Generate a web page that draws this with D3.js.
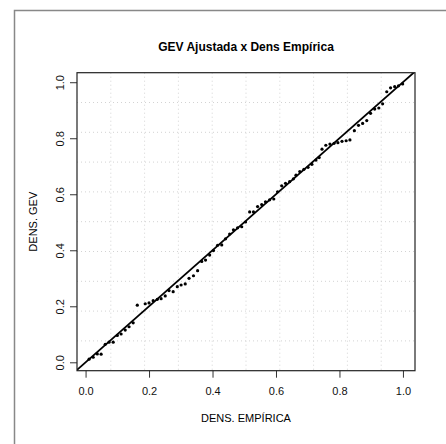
<!DOCTYPE html>
<html>
<head>
<meta charset="utf-8">
<script src="https://cdn.jsdelivr.net/npm/d3@7"></script>
<style>
  body { margin: 0; background: #fff; }
  text { font-family: "Liberation Sans", Arial, sans-serif; }
</style>
</head>
<body>
<div id="chart"></div>
<script>
let densEmp = [
  0.011, 0.024, 0.037, 0.049, 0.062, 0.074, 0.087, 0.100, 0.112, 0.125,
  0.137, 0.150, 0.163, 0.188, 0.200, 0.213, 0.226, 0.238, 0.251, 0.263,
  0.276, 0.289, 0.301, 0.314, 0.326, 0.340, 0.353, 0.366, 0.378, 0.391,
  0.403, 0.416, 0.429, 0.441, 0.454, 0.466, 0.479, 0.492, 0.504, 0.517,
  0.529, 0.542, 0.555, 0.567, 0.580, 0.593, 0.605, 0.618, 0.630, 0.643,
  0.655, 0.663, 0.675, 0.688, 0.701, 0.713, 0.726, 0.736, 0.745, 0.757,
  0.770, 0.783, 0.795, 0.808, 0.821, 0.833, 0.847, 0.860, 0.873, 0.886,
  0.898, 0.911, 0.924, 0.936, 0.949, 0.961, 0.974, 0.986, 0.999
]
let densGev = [
  0.011, 0.018, 0.030, 0.029, 0.064, 0.072, 0.072, 0.096, 0.101, 0.115,
  0.127, 0.141, 0.204, 0.209, 0.212, 0.220, 0.225, 0.227, 0.237, 0.256,
  0.252, 0.270, 0.276, 0.280, 0.300, 0.309, 0.327, 0.360, 0.365, 0.383,
  0.399, 0.418, 0.419, 0.441, 0.458, 0.473, 0.480, 0.484, 0.501, 0.537,
  0.537, 0.556, 0.563, 0.573, 0.580, 0.583, 0.609, 0.630, 0.639, 0.645,
  0.655, 0.668, 0.681, 0.689, 0.696, 0.707, 0.722, 0.731, 0.761, 0.775,
  0.779, 0.782, 0.784, 0.789, 0.791, 0.794, 0.827, 0.846, 0.853, 0.863,
  0.889, 0.904, 0.908, 0.923, 0.966, 0.980, 0.984, 0.987, 0.994
]
let xTicks = [0, 0.2, 0.4, 0.6, 0.8, 1.0]
let yTicks = [0, 0.2, 0.4, 0.6, 0.8, 1.0]

let pts = densEmp.map((d, i) => ({ emp: d, gev: densGev[i] }))

let box = { left: 77, right: 415, top: 72.7, bottom: 370.7 }

const svg = d3.select("#chart")
  .append("svg")
  .attr("width", 446)
  .attr("height", 444)

// outer frame of the figure (only top and left edges fall inside the window)
svg.append("rect")
  .attr("x", 14.5).attr("y", 10.5)
  .attr("width", 500).attr("height", 500)
  .attr("fill", "none")
  .attr("stroke", "#888")
  .attr("stroke-width", 1.5)

let x = d3.scaleLinear()
  .domain([-0.027, 1.038])
  .range([box.left, box.right])
let y = d3.scaleLinear()
  .domain([-0.03, 1.034])
  .range([box.bottom, box.top])

// grid: 10 equal parts of the plot region
let gx = d3.range(1, 10).map(k => box.left + k * (box.right - box.left) / 10)
let gy = d3.range(1, 10).map(k => box.top + k * (box.bottom - box.top) / 10)
svg.append("g").selectAll("line")
  .data(gx)
  .join("line")
  .attr("x1", d => d).attr("x2", d => d)
  .attr("y1", box.top).attr("y2", box.bottom)
  .attr("stroke", "#d3d3d3")
  .attr("stroke-dasharray", "1,3")
svg.append("g").selectAll("line")
  .data(gy)
  .join("line")
  .attr("y1", d => d).attr("y2", d => d)
  .attr("x1", box.left).attr("x2", box.right)
  .attr("stroke", "#d3d3d3")
  .attr("stroke-dasharray", "1,3")

svg.append("clipPath").attr("id", "plotclip")
  .append("rect")
  .attr("x", box.left).attr("y", box.top)
  .attr("width", box.right - box.left).attr("height", box.bottom - box.top)

// y = x reference line
svg.append("line")
  .attr("clip-path", "url(#plotclip)")
  .attr("x1", x(-0.03)).attr("y1", y(-0.03))
  .attr("x2", x(1.04)).attr("y2", y(1.04))
  .attr("stroke", "#000")
  .attr("stroke-width", 1.8)

svg.append("g").selectAll("circle")
  .data(pts)
  .join("circle")
  .attr("cx", d => x(d.emp))
  .attr("cy", d => y(d.gev))
  .attr("r", 1.6)
  .attr("fill", "#000")

// axes
let xAxis = svg.append("g")
  .attr("transform", `translate(0,${box.bottom})`)
  .call(d3.axisBottom(x).tickValues(xTicks).tickFormat(d3.format(".1f")).tickSize(7).tickPadding(10))
let yAxis = svg.append("g")
  .attr("transform", `translate(${box.left},0)`)
  .call(d3.axisLeft(y).tickValues(yTicks).tickFormat(d3.format(".1f")).tickSize(7))
xAxis.select(".domain").remove()
yAxis.select(".domain").remove()
svg.selectAll(".tick line").attr("stroke", "#333")
xAxis.selectAll("text")
  .attr("font-size", 11).attr("fill", "#111")
  .attr("font-family", "Liberation Sans, Arial, sans-serif")
yAxis.selectAll("text")
  .attr("font-size", 11).attr("fill", "#111")
  .attr("font-family", "Liberation Sans, Arial, sans-serif")
  .attr("text-anchor", "middle")
  .attr("x", 0).attr("dy", "0.35em")
  .attr("transform", "translate(-17,0) rotate(-90)")

svg.append("rect")
  .attr("x", box.left).attr("y", box.top)
  .attr("width", box.right - box.left).attr("height", box.bottom - box.top)
  .attr("fill", "none")
  .attr("stroke", "#222")
  .attr("stroke-width", 1.2)

svg.append("text")
  .attr("x", (box.left + box.right) / 2)
  .attr("y", 51)
  .attr("text-anchor", "middle")
  .attr("font-size", 12)
  .attr("font-weight", "bold")
  .text("GEV Ajustada x Dens Empírica")

svg.append("text")
  .attr("x", (box.left + box.right) / 2)
  .attr("y", 422)
  .attr("text-anchor", "middle")
  .attr("font-size", 11)
  .text("DENS. EMPÍRICA")

svg.append("text")
  .attr("transform", `translate(37,${(box.top + box.bottom) / 2}) rotate(-90)`)
  .attr("text-anchor", "middle")
  .attr("font-size", 11)
  .text("DENS. GEV")
</script>
</body>
</html>
